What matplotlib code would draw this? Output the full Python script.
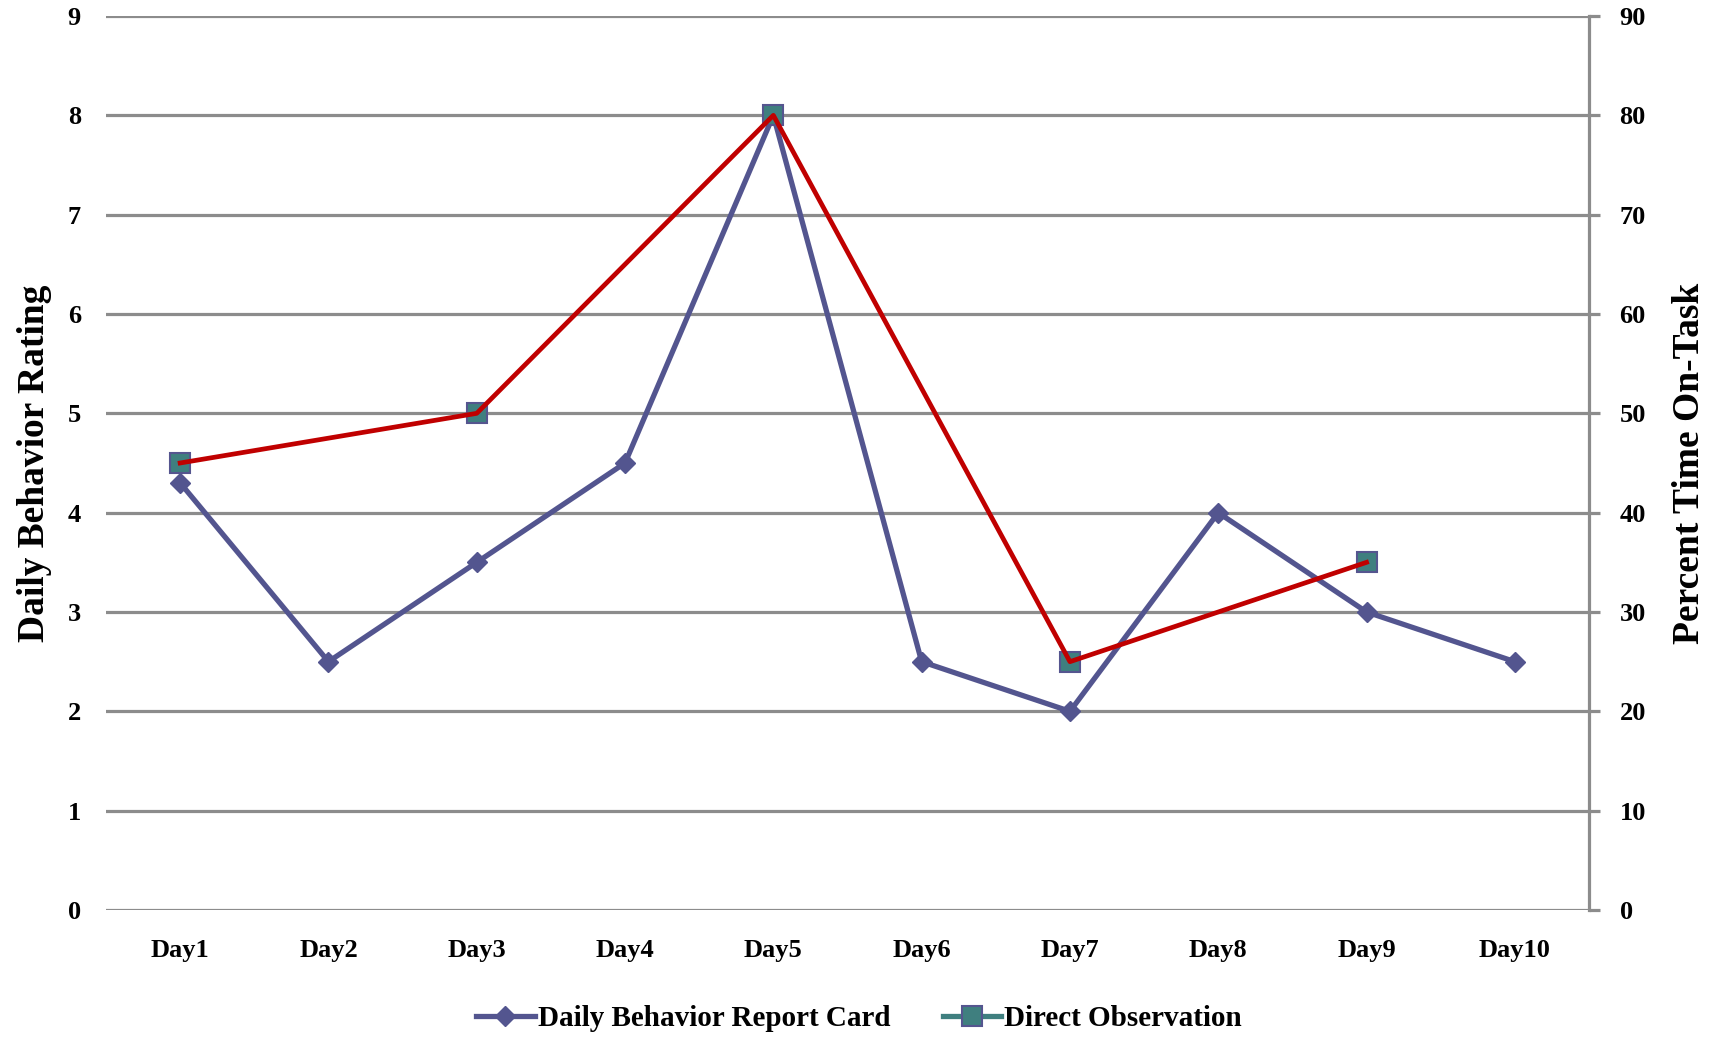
import numpy as np
import matplotlib
matplotlib.use("Agg")
import matplotlib.pyplot as plt

plt.rcParams['font.family'] = ['Liberation Serif', 'DejaVu Serif']
plt.rcParams['font.weight'] = 'bold'

days = ["Day1", "Day2", "Day3", "Day4", "Day5", "Day6", "Day7", "Day8", "Day9", "Day10"]
dbrc = [4.3, 2.5, 3.5, 4.5, 8.0, 2.5, 2.0, 4.0, 3.0, 2.5]
direct_obs = [45, np.nan, 50, np.nan, 80, np.nan, 25, np.nan, 35, np.nan]
left_ticks = list(range(0, 10))
right_ticks = list(range(0, 100, 10))

fig = plt.figure(figsize=(17.11, 10.45), dpi=100)
ax = fig.add_axes([106 / 1711, 1 - 910 / 1045, (1589 - 106) / 1711, (910 - 16) / 1045])
ax2 = ax.twinx()

x = np.arange(len(days))
grid_c = '#8c8c8c'

ax.set_xlim(-0.5, len(days) - 0.5)
ax.set_ylim(0, 9)
ax.set_yticks(left_ticks)
ax.yaxis.grid(True, color=grid_c, lw=2.3)
ax.set_axisbelow(True)
for s in ['left', 'top', 'right', 'bottom']:
    ax.spines[s].set_visible(False)
ax.tick_params(axis='y', length=0, pad=18, labelsize=19)
ax.tick_params(axis='x', length=0, pad=21, labelsize=19)
ax.set_xticks(x)
ax.set_xticklabels(days)
ax.set_ylabel("Daily Behavior Rating", fontsize=27, fontweight='bold', labelpad=11)

ax2.set_ylim(0, 90)
ax2.set_yticks(right_ticks)
for s in ['left', 'top', 'bottom']:
    ax2.spines[s].set_visible(False)
ax2.spines['right'].set_color(grid_c)
ax2.spines['right'].set_linewidth(2.3)
ax2.tick_params(axis='y', length=8, width=2.3, color=grid_c, pad=14, labelsize=19)
ax2.set_ylabel("Percent Time On-Task", fontsize=27, fontweight='bold', labelpad=19)

dbrc_color = '#53558f'
obs_color = '#3f7f7f'

l1, = ax.plot(x, dbrc, color=dbrc_color, lw=3.8, marker='D', ms=10,
              mfc=dbrc_color, mec=dbrc_color, zorder=3,
              label="Daily Behavior Report Card")
l2, = ax2.plot(x, direct_obs, color=obs_color, lw=3.8, marker='s', ms=14,
               mfc=obs_color, mec='#55558f', mew=1.5, zorder=3,
               label="Direct Observation")

# connecting line across the observed days
mask = ~np.isnan(direct_obs)
obs_arr = np.array(direct_obs)
ax2.plot(x[mask], obs_arr[mask], color='#c00000', lw=3.4, zorder=4)

fig.legend(handles=[l1, l2], loc='center', bbox_to_anchor=(0.502, 1 - 1019 / 1045),
           ncol=2, frameon=False, fontsize=21, handlelength=2.0, handletextpad=0.1,
           columnspacing=1.8)

fig.savefig("out.png", dpi=100)
